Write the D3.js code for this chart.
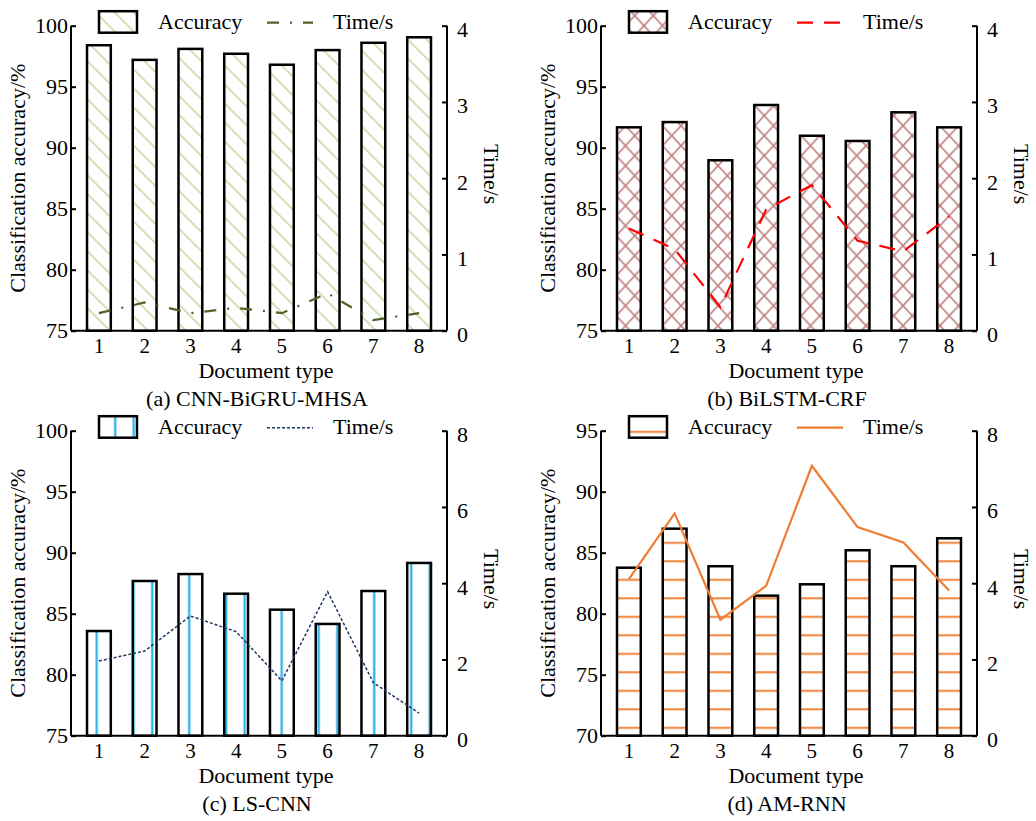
<!DOCTYPE html>
<html>
<head>
<meta charset="utf-8">
<script src="https://cdn.jsdelivr.net/npm/d3@7"></script>
<style>
  body { margin: 0; background: #fff; }
  svg { display: block; }
  text { font-family: "Liberation Serif", "Times New Roman", serif; font-size: 22px; fill: #000; }
</style>
</head>
<body>
<div id="chart"></div>
<script>
// document types on the x axis
var categories = ["1", "2", "3", "4", "5", "6", "7", "8"];

// (a) CNN-BiGRU-MHSA
var accA = [98.4, 97.2, 98.1, 97.7, 96.8, 98.0, 98.6, 99.05];
var timeA = [0.23, 0.37, 0.23, 0.30, 0.23, 0.49, 0.14, 0.23];
// (b) BiLSTM-CRF
var accB = [91.67, 92.1, 88.97, 93.5, 90.98, 90.55, 92.9, 91.67];
var timeB = [1.34, 1.07, 0.31, 1.59, 1.91, 1.18, 1.04, 1.50];
// (c) LS-CNN
var accC = [83.58, 87.68, 88.25, 86.64, 85.33, 84.16, 86.86, 89.16];
var timeC = [1.96, 2.22, 3.14, 2.73, 1.44, 3.78, 1.39, 0.59];
// (d) AM-RNN
var accD = [83.77, 86.97, 83.89, 81.48, 82.41, 85.2, 83.89, 86.18];
var timeD = [4.11, 5.83, 3.04, 3.93, 7.08, 5.47, 5.07, 3.81];

var accTicksABC = [75, 80, 85, 90, 95, 100];
var accTicksD = [70, 75, 80, 85, 90, 95];
var timeTicks4 = [0, 1, 2, 3, 4];
var timeTicks8 = [0, 2, 4, 6, 8];

var captions = ["(a) CNN-BiGRU-MHSA", "(b) BiLSTM-CRF", "(c) LS-CNN", "(d) AM-RNN"];

var width = 376, height = 305;

var svg = d3.select("#chart").append("svg")
  .attr("width", 1036)
  .attr("height", 821);

var defs = svg.append("defs");

// diagonal hatch (a)
var pA = defs.append("pattern").attr("id", "patA")
  .attr("patternUnits", "userSpaceOnUse").attr("width", 19).attr("height", 19);
pA.append("path").attr("d", "M-2,-2L21,21M-12,7L2,21M7,-12L21,2")
  .attr("stroke", "#c9dca8").attr("stroke-width", 1.7);

// crosshatch (b)
var pB = defs.append("pattern").attr("id", "patB")
  .attr("patternUnits", "userSpaceOnUse").attr("width", 18.5).attr("height", 20)
  .attr("x", 6);
pB.append("path").attr("d", "M0,0L18.5,20M18.5,0L0,20")
  .attr("stroke", "#c08080").attr("stroke-width", 1.6);

// vertical lines (c)
var pC = defs.append("pattern").attr("id", "patC")
  .attr("patternUnits", "userSpaceOnUse").attr("width", 18.5).attr("height", 10);
pC.append("line").attr("x1", 7.2).attr("x2", 7.2).attr("y1", 0).attr("y2", 10)
  .attr("stroke", "#a9def5").attr("stroke-width", 3);
pC.append("line").attr("x1", 7.2).attr("x2", 7.2).attr("y1", 0).attr("y2", 10)
  .attr("stroke", "#1aaee8").attr("stroke-width", 1.6);

// horizontal lines (d)
var pD = defs.append("pattern").attr("id", "patD")
  .attr("patternUnits", "userSpaceOnUse").attr("width", 10).attr("height", 18.5);
pD.append("line").attr("x1", 0).attr("x2", 10).attr("y1", 1).attr("y2", 1)
  .attr("stroke", "#f7c9a6").attr("stroke-width", 3);
pD.append("line").attr("x1", 0).attr("x2", 10).attr("y1", 1).attr("y2", 1)
  .attr("stroke", "#ee7d31").attr("stroke-width", 1.5);

var panels = [
  { left: 71, top: 25.7, acc: accA, time: timeA, accTicks: accTicksABC, timeTicks: timeTicks4,
    fill: "url(#patA)", color: "#4f6228", dash: "12,11,2,11", lw: 2.2 },
  { left: 601, top: 25.7, acc: accB, time: timeB, accTicks: accTicksABC, timeTicks: timeTicks4,
    fill: "url(#patB)", color: "#ff0000", dash: "16,11", lw: 2.2 },
  { left: 71, top: 430.7, acc: accC, time: timeC, accTicks: accTicksABC, timeTicks: timeTicks8,
    fill: "url(#patC)", color: "#1f3864", dash: "3,2", lw: 1.5 },
  { left: 601, top: 430.7, acc: accD, time: timeD, accTicks: accTicksD, timeTicks: timeTicks8,
    fill: "url(#patD)", color: "#ed7d31", dash: null, lw: 2.2 }
];

panels.forEach(function (p, i) {
  var g = svg.append("g").attr("transform", "translate(" + p.left + "," + p.top + ")");

  var x = d3.scaleBand().domain(categories).range([0, width])
    .paddingInner(0.48).paddingOuter(0.35);
  var yL = d3.scaleLinear().domain(d3.extent(p.accTicks)).range([height, 0]);
  var yR = d3.scaleLinear().domain(d3.extent(p.timeTicks)).range([height, 0]);

  // bars
  g.selectAll("rect.bar")
    .data(p.acc)
    .enter().append("rect")
    .attr("class", "bar")
    .attr("x", (d, j) => x(categories[j]))
    .attr("y", d => yL(d))
    .attr("width", x.bandwidth())
    .attr("height", d => height - yL(d))
    .attr("fill", p.fill)
    .attr("stroke", "#000")
    .attr("stroke-width", 2.5);

  // time line
  var line = d3.line()
    .x((d, j) => x(categories[j]) + x.bandwidth() / 2)
    .y(d => yR(d));
  g.append("path")
    .datum(p.time)
    .attr("d", line)
    .attr("fill", "none")
    .attr("stroke", p.color)
    .attr("stroke-width", p.lw)
    .attr("stroke-dasharray", p.dash);

  // axes
  var axL = g.append("g").call(d3.axisLeft(yL).tickValues(p.accTicks)
    .tickFormat(d3.format("d")).tickSize(-5).tickPadding(3));
  var axR = g.append("g").attr("transform", "translate(" + width + ",0)")
    .call(d3.axisRight(yR).tickValues(p.timeTicks)
      .tickFormat(d3.format("d")).tickSize(-5).tickPadding(10));
  var axB = g.append("g").attr("transform", "translate(0," + height + ")")
    .call(d3.axisBottom(x).tickSize(0).tickPadding(8));

  [axL, axR, axB].forEach(function (ax) {
    ax.select(".domain").attr("stroke", "#000").attr("stroke-width", 2);
    ax.selectAll(".tick line").attr("stroke", "#000").attr("stroke-width", 2);
    ax.selectAll(".tick text")
      .style("font-family", "Liberation Serif").style("font-size", "22px").attr("fill", "#000");
  });
  axB.selectAll(".tick text").style("font-size", "21px");
  axL.select(".domain").attr("d", "M0,0V" + height);
  axR.select(".domain").attr("d", "M0,0V" + height);
  axB.select(".domain").attr("d", "M0,0H" + width);
  axR.selectAll(".tick text").attr("dy", "0.5em");
  axB.selectAll(".tick text").attr("dy", "0.7em");

  // axis titles
  g.append("text")
    .attr("transform", "translate(-46," + (height / 2) + ") rotate(-90)")
    .attr("text-anchor", "middle")
    .text("Classification accuracy/%");
  g.append("text")
    .attr("transform", "translate(413," + (height / 2 - 4) + ") rotate(90)")
    .attr("text-anchor", "middle")
    .text("Time/s");
  g.append("text")
    .attr("x", width / 2 + 7).attr("y", height + 47.5)
    .attr("text-anchor", "middle")
    .text("Document type");
  g.append("text")
    .attr("x", width / 2 - 2).attr("y", height + 75)
    .attr("text-anchor", "middle")
    .text(captions[i]);

  // legend
  var lg = g.append("g");
  lg.append("rect")
    .attr("x", 28).attr("y", -14.5).attr("width", 38).attr("height", 21.5)
    .attr("fill", p.fill).attr("stroke", "#000").attr("stroke-width", 2.5);
  lg.append("text").attr("x", 87).attr("y", 3).text("Accuracy");
  lg.append("line")
    .attr("x1", 196).attr("x2", 242).attr("y1", -3).attr("y2", -3)
    .attr("stroke", p.color).attr("stroke-width", p.lw)
    .attr("stroke-dasharray", p.dash);
  lg.append("text").attr("x", 262).attr("y", 3).text("Time/s");
});
</script>
</body>
</html>
